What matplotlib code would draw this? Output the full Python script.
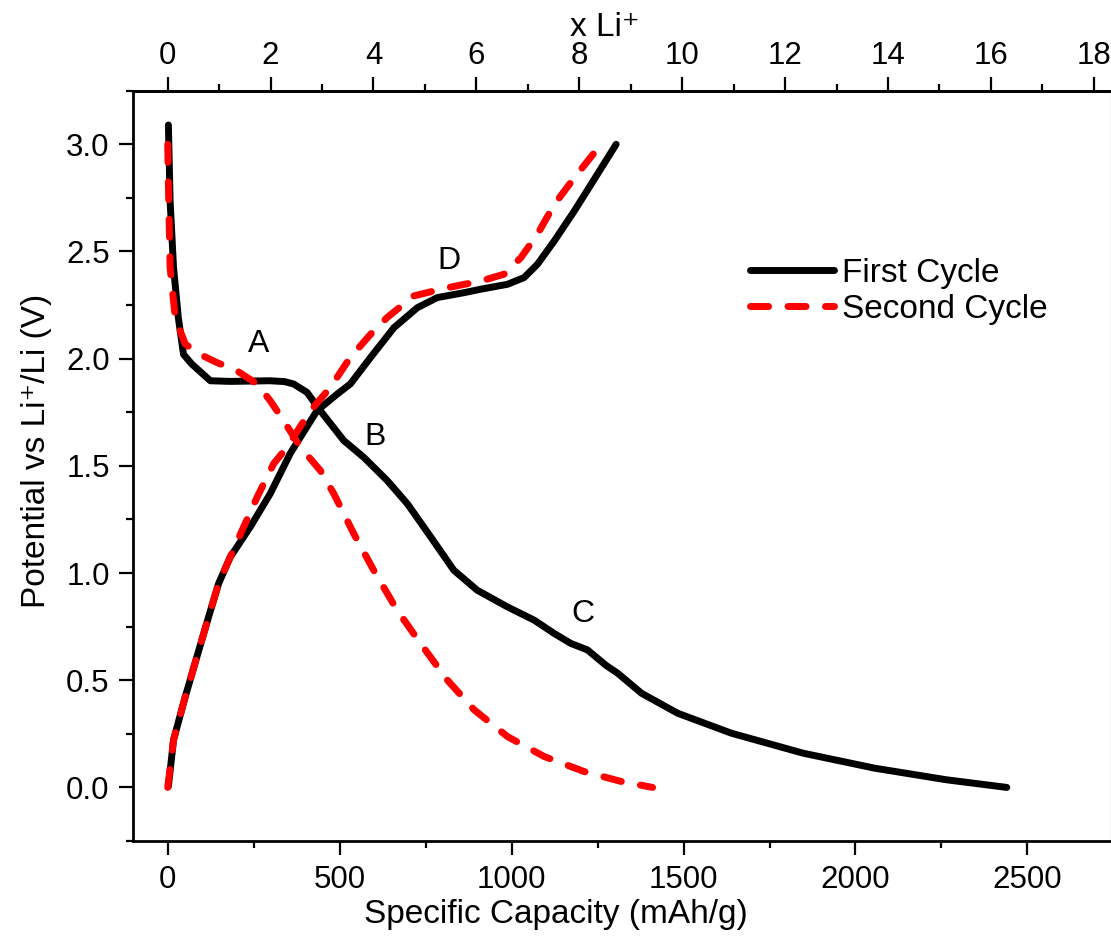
import matplotlib
matplotlib.use("Agg")
import matplotlib.pyplot as plt
from matplotlib.ticker import MultipleLocator, FormatStrFormatter

plt.rcParams['font.family'] = ['Liberation Sans', 'DejaVu Sans']

# first cycle, discharge (mAh/g, V)
first_dis_cap = [2, 7, 17, 31, 46, 70, 124, 182, 298, 340, 366, 405, 444, 512, 570, 638,
                 697, 765, 832, 900, 988, 1066, 1124, 1172, 1221, 1274, 1309, 1378,
                 1483, 1639, 1847, 2055, 2263, 2440]
first_dis_v = [3.09, 2.735, 2.424, 2.19, 2.02, 1.975, 1.897, 1.894, 1.897, 1.893, 1.882,
               1.843, 1.757, 1.618, 1.54, 1.432, 1.323, 1.168, 1.013, 0.92, 0.842, 0.78,
               0.718, 0.672, 0.641, 0.57, 0.532, 0.439, 0.346, 0.253, 0.16, 0.09, 0.036,
               0.0]

# first cycle, charge
first_chg_cap = [2, 17, 51, 85, 119, 148, 182, 240, 298, 357, 434, 493, 531, 590, 658,
                 726, 784, 862, 910, 988, 1036, 1075, 1124, 1182, 1240, 1304]
first_chg_v = [0.005, 0.222, 0.423, 0.61, 0.796, 0.951, 1.075, 1.215, 1.37, 1.56, 1.757,
               1.835, 1.882, 2.006, 2.145, 2.238, 2.285, 2.308, 2.324, 2.347, 2.378, 2.44,
               2.549, 2.688, 2.836, 3.0]

# second cycle, discharge
second_dis_cap = [0, 3, 7, 22, 51, 94, 143, 201, 260, 298, 337, 386, 444, 483, 541, 599,
                  667, 735, 813, 891, 988, 1095, 1211, 1318, 1410]
second_dis_v = [3.0, 2.735, 2.424, 2.19, 2.068, 2.02, 1.982, 1.944, 1.882, 1.804, 1.711,
                1.587, 1.478, 1.37, 1.184, 1.013, 0.827, 0.672, 0.501, 0.362, 0.237,
                0.144, 0.074, 0.028, 0.0]

# second cycle, charge
second_chg_cap = [0, 17, 51, 85, 119, 148, 182, 212, 260, 308, 347, 415, 473, 531, 590,
                  638, 716, 813, 910, 978, 1027, 1075, 1124, 1182, 1260]
second_chg_v = [0.0, 0.222, 0.423, 0.61, 0.796, 0.951, 1.075, 1.184, 1.354, 1.51, 1.587,
                1.757, 1.866, 2.006, 2.114, 2.192, 2.293, 2.331, 2.362, 2.394, 2.471,
                2.58, 2.719, 2.843, 3.0]

# region labels
region_names = ['A', 'B', 'C', 'D']
region_cap = [263, 604, 1206, 818]
region_v = [2.07, 1.633, 0.81, 2.456]

MAH_PER_LI = 149.6  # mAh/g per x Li+

tick_fs = 22.5
lab_fs = 24
dash = (0, (2.6, 2.8))

fig = plt.figure(figsize=(11.11, 9.4), dpi=100)
ax = fig.add_axes([0.12, 0.1053, 0.88, 0.7982])

l1, = ax.plot(first_dis_cap, first_dis_v, color='black', lw=5,
              solid_capstyle='round', solid_joinstyle='round')
ax.plot(first_chg_cap, first_chg_v, color='black', lw=5,
        solid_capstyle='round', solid_joinstyle='round')
l2, = ax.plot(second_dis_cap, second_dis_v, color='#ff0000', lw=5, ls=dash,
              dash_capstyle='round')
ax.plot(second_chg_cap, second_chg_v, color='#ff0000', lw=5, ls=dash,
        dash_capstyle='round')

for name, c, v in zip(region_names, region_cap, region_v):
    ax.text(c, v, name, fontsize=23, ha='center', va='center')

ax.set_xlim(-100, 2743)
ax.set_ylim(-0.25, 3.25)

ax.xaxis.set_major_locator(MultipleLocator(500))
ax.xaxis.set_minor_locator(MultipleLocator(250))
ax.yaxis.set_major_locator(MultipleLocator(0.5))
ax.yaxis.set_minor_locator(MultipleLocator(0.25))
ax.yaxis.set_major_formatter(FormatStrFormatter('%.1f'))

for s in ['left', 'bottom', 'top']:
    ax.spines[s].set_linewidth(2)
ax.spines['right'].set_color('#c8c8c8')
ax.spines['right'].set_linewidth(1)

ax.tick_params(which='both', direction='out', width=1.6, labelsize=tick_fs, pad=7,
               top=False, right=False)
ax.tick_params(which='major', length=10)
ax.tick_params(which='minor', length=5)

secax = ax.secondary_xaxis('top', functions=(lambda c: c / MAH_PER_LI,
                                               lambda x: x * MAH_PER_LI))
secax.xaxis.set_major_locator(MultipleLocator(2))
secax.xaxis.set_minor_locator(MultipleLocator(1))
secax.spines['top'].set_linewidth(2)
secax.tick_params(which='both', direction='out', width=1.6, labelsize=tick_fs, pad=4)
secax.tick_params(which='major', length=10)
secax.tick_params(which='minor', length=5)
secax.set_xlabel('x Li⁺', fontsize=lab_fs, x=0.482, labelpad=4)

ax.set_xlabel('Specific Capacity (mAh/g)', fontsize=lab_fs, x=0.432, labelpad=3)
ax.set_ylabel('Potential vs Li⁺/Li (V)', fontsize=lab_fs, y=0.52, labelpad=10)

ax.legend([l1, l2], ['First Cycle', 'Second Cycle'], fontsize=lab_fs, frameon=False,
          loc='upper left', bbox_to_anchor=(0.631, 0.777), handlelength=2.5,
          handletextpad=0.25, labelspacing=0.15, borderpad=0, borderaxespad=0)

fig.savefig('out.png', dpi=100)
